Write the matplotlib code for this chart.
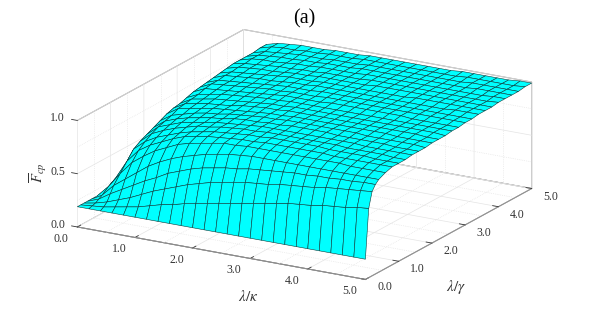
import numpy as np
import matplotlib
matplotlib.use('Agg')
import matplotlib.pyplot as plt

plt.rcParams['font.family'] = ['Liberation Serif', 'DejaVu Serif']
plt.rcParams['mathtext.fontset'] = 'stix'

# lambda/kappa columns and lambda/gamma rows
x_vals = [0.0, 0.2, 0.4, 0.6, 0.8, 1.0, 1.2, 1.4, 1.6, 1.8, 2.0, 2.2, 2.4,
          2.6, 2.8, 3.0, 3.2, 3.4, 3.6, 3.8, 4.0, 4.2, 4.4, 4.6, 4.8, 5.0]
y_vals = [0.0, 0.1, 0.2, 0.3, 0.4, 0.6, 0.8, 1.0, 1.2, 1.4, 1.6, 1.8, 2.0, 2.2,
          2.4, 2.6, 2.8, 3.0, 3.2, 3.4, 3.6, 3.8, 4.0, 4.2, 4.4, 4.6, 4.8, 5.0]

# F values, one row per y_vals entry
f_vals = [
    [.19, .19, .19, .19, .19, .19, .19, .19, .19, .19, .19, .19, .19, .19, .19, .19, .19, .19, .19, .19, .19, .19, .19, .19, .19, .19],
    [.19, .20, .21, .23, .25, .27, .30, .33, .35, .38, .40, .42, .44, .46, .48, .50, .52, .54, .56, .57, .58, .60, .61, .62, .64, .65],
    [.19, .21, .24, .28, .32, .37, .42, .46, .50, .54, .57, .60, .62, .64, .66, .67, .68, .70, .71, .72, .73, .75, .76, .77, .78, .79],
    [.19, .23, .30, .36, .42, .48, .53, .59, .63, .67, .70, .72, .74, .75, .77, .78, .79, .80, .81, .81, .82, .82, .83, .83, .84, .84],
    [.19, .25, .36, .44, .52, .60, .66, .71, .75, .78, .81, .83, .85, .86, .87, .87, .87, .87, .87, .87, .87, .87, .87, .87, .87, .87],
    [.19, .30, .44, .56, .64, .71, .76, .81, .84, .86, .88, .90, .90, .91, .91, .91, .91, .91, .91, .91, .91, .91, .90, .90, .90, .90],
    [.19, .34, .52, .64, .71, .76, .81, .85, .87, .89, .90, .91, .92, .92, .93, .93, .93, .93, .93, .93, .92, .92, .92, .92, .92, .92],
    [.19, .38, .60, .69, .75, .79, .83, .86, .88, .90, .91, .92, .93, .93, .94, .94, .94, .94, .94, .93, .93, .93, .93, .92, .92, .92],
    [.19, .41, .64, .73, .78, .82, .85, .88, .89, .91, .92, .93, .93, .94, .94, .94, .94, .94, .94, .94, .93, .93, .93, .93, .92, .92],
    [.19, .44, .67, .76, .80, .84, .86, .88, .90, .91, .92, .93, .94, .94, .94, .94, .94, .94, .94, .94, .94, .93, .93, .93, .93, .93],
    [.19, .47, .70, .78, .82, .85, .87, .89, .90, .92, .93, .93, .94, .94, .95, .95, .95, .95, .94, .94, .94, .94, .94, .93, .93, .93],
    [.19, .50, .73, .80, .83, .86, .88, .89, .91, .92, .93, .94, .94, .95, .95, .95, .95, .95, .95, .95, .94, .94, .94, .94, .94, .93],
    [.19, .52, .76, .83, .85, .87, .89, .90, .91, .92, .93, .94, .94, .95, .95, .95, .95, .95, .95, .95, .95, .95, .94, .94, .94, .94],
    [.19, .54, .78, .84, .86, .88, .89, .90, .92, .93, .94, .94, .95, .95, .95, .95, .95, .95, .95, .95, .95, .95, .95, .95, .94, .94],
    [.19, .56, .79, .85, .87, .89, .90, .91, .92, .93, .94, .94, .95, .95, .95, .95, .95, .95, .95, .95, .95, .95, .95, .95, .95, .94],
    [.19, .58, .81, .86, .88, .90, .91, .92, .93, .94, .94, .95, .95, .95, .95, .95, .95, .95, .95, .95, .95, .95, .95, .95, .95, .95],
    [.19, .59, .83, .88, .89, .90, .91, .92, .93, .94, .95, .95, .95, .95, .96, .96, .96, .96, .96, .96, .96, .95, .95, .95, .95, .95],
    [.19, .60, .84, .89, .90, .91, .92, .93, .94, .94, .95, .95, .95, .96, .96, .96, .96, .96, .96, .96, .96, .96, .96, .96, .96, .96],
    [.19, .62, .85, .89, .90, .91, .92, .93, .94, .95, .95, .95, .96, .96, .96, .96, .96, .96, .96, .96, .96, .96, .96, .96, .96, .96],
    [.19, .63, .86, .90, .91, .92, .93, .93, .94, .95, .95, .96, .96, .96, .96, .96, .96, .96, .96, .96, .96, .96, .96, .97, .97, .97],
    [.19, .64, .87, .90, .91, .92, .93, .94, .95, .95, .95, .96, .96, .96, .96, .96, .96, .96, .96, .97, .97, .97, .97, .97, .97, .97],
    [.19, .65, .88, .91, .92, .93, .93, .94, .95, .95, .96, .96, .96, .96, .96, .97, .97, .97, .97, .97, .97, .97, .97, .97, .97, .97],
    [.19, .66, .89, .91, .92, .93, .94, .94, .95, .95, .96, .96, .96, .96, .97, .97, .97, .97, .97, .97, .97, .97, .97, .97, .97, .98],
    [.19, .67, .89, .92, .93, .93, .94, .95, .95, .96, .96, .96, .96, .97, .97, .97, .97, .97, .97, .97, .97, .97, .97, .97, .98, .98],
    [.19, .68, .89, .92, .93, .94, .94, .95, .95, .96, .96, .96, .97, .97, .97, .97, .97, .97, .97, .97, .97, .97, .98, .98, .98, .98],
    [.19, .69, .89, .92, .93, .94, .95, .95, .95, .96, .96, .96, .97, .97, .97, .97, .97, .97, .97, .97, .97, .98, .98, .98, .98, .98],
    [.19, .70, .90, .93, .94, .94, .95, .95, .96, .96, .96, .97, .97, .97, .97, .97, .97, .97, .97, .97, .98, .98, .98, .98, .98, .99],
    [.19, .70, .90, .93, .94, .95, .95, .95, .96, .96, .96, .97, .97, .97, .97, .97, .97, .97, .97, .98, .98, .98, .98, .98, .99, .99],
]

xy_ticks = [0, 1, 2, 3, 4, 5]
z_ticks = [0, 0.5, 1]
xy_minor = [0.5, 1.5, 2.5, 3.5, 4.5]
z_minor = [0.25, 0.75]
tick_fmt = '%.1f'
grey = '#8c8c8c'

X, Y = np.meshgrid(x_vals, y_vals)
Z = np.array(f_vals)

fig = plt.figure(figsize=(5.89, 3.13), dpi=100)
ax = fig.add_axes([0.0035, -0.460, 1.0, 1.882], projection='3d', proj_type='ortho')
ax.view_init(elev=18.4, azim=-60)
ax.set_box_aspect((1, 1, 0.3375), zoom=0.797)
ax.set_xlim(0, 5, view_margin=0)
ax.set_ylim(0, 5, view_margin=0)
ax.set_zlim(0, 1, view_margin=0)

ax.plot_surface(X, Y, Z, color='#00ffff', shade=False, edgecolor='#0a3a3a', linewidth=0.4,
                rstride=1, cstride=1, antialiased=True, zorder=5)

# dotted minor grid on the two walls and the floor
for v in xy_minor:
    ax.plot([v, v], [5, 5], [0, 1], color='#e0e0e0', lw=0.5, ls=':', zorder=1)
    ax.plot([0, 0], [v, v], [0, 1], color='#e0e0e0', lw=0.5, ls=':', zorder=1)
    ax.plot([v, v], [0, 5], [0, 0], color='#e0e0e0', lw=0.5, ls=':', zorder=1)
    ax.plot([0, 5], [v, v], [0, 0], color='#e0e0e0', lw=0.5, ls=':', zorder=1)
for v in z_minor:
    ax.plot([0, 5], [5, 5], [v, v], color='#e0e0e0', lw=0.5, ls=':', zorder=1)
    ax.plot([0, 0], [0, 5], [v, v], color='#e0e0e0', lw=0.5, ls=':', zorder=1)

ax.zaxis._axinfo['juggled'] = (1, 0, 2)

ax.set_xticks(xy_ticks)
ax.set_yticks(xy_ticks)
ax.set_zticks(z_ticks)
ax.set_xticklabels([tick_fmt % t for t in xy_ticks], ha='right', va='center_baseline')
ax.set_yticklabels([tick_fmt % t for t in xy_ticks], ha='left', va='center_baseline')
ax.set_zticklabels([tick_fmt % t for t in z_ticks], ha='right', va='baseline')

for axis in (ax.xaxis, ax.yaxis, ax.zaxis):
    axis.set_pane_color((1, 1, 1, 1))
    axis.pane.set_edgecolor(grey)
    axis.pane.set_linewidth(0.7)
    axis.line.set_color(grey)
    axis.line.set_linewidth(0.7)
    axis._axinfo['grid']['color'] = '#e4e4e4'
    axis._axinfo['grid']['linewidth'] = 0.5
    axis._axinfo['tick']['color'] = grey
    axis._axinfo['tick']['linewidth'] = {True: 0.6, False: 0.6}
    axis._axinfo['tick']['inward_factor'] = 0.0
    axis._axinfo['tick']['outward_factor'] = 0.25
ax.tick_params(labelsize=8.5, colors='#333333', pad=-1)
ax.xaxis.set_tick_params(pad=3.5)
ax.yaxis.set_tick_params(pad=1)
ax.zaxis.set_tick_params(pad=-2)

fig.text(0.516, 0.94, '(a)', fontsize=14.5, ha='center', va='center')
fig.text(0.421, 0.052, r'$\lambda/\kappa$', fontsize=11, color='#333333', ha='center', va='center')
fig.text(0.774, 0.083, r'$\lambda/\gamma$', fontsize=11, color='#333333', ha='center', va='center')
fig.text(0.065, 0.447, r'$\overline{F}_{cp}$', fontsize=10.5, color='#333333', rotation=90, ha='center', va='center')

fig.savefig('out.png', dpi=100)
